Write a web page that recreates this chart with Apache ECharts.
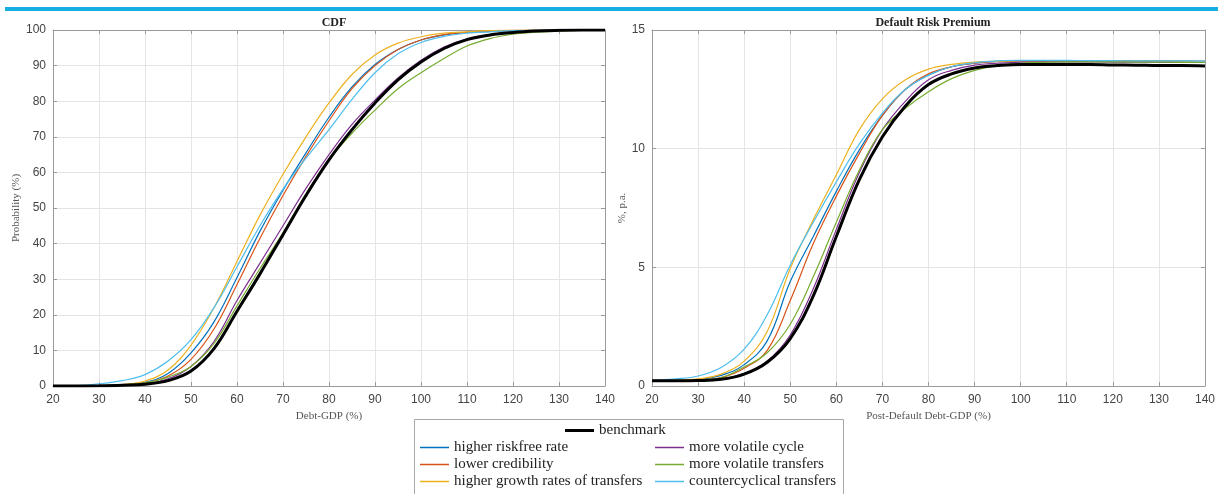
<!DOCTYPE html>
<html>
<head>
<meta charset="utf-8">
<script src="https://cdn.jsdelivr.net/npm/echarts@6/dist/echarts.min.js"></script>
<style>
html,body{margin:0;padding:0;background:#fff;}
#chart{width:1218px;height:494px;}
</style>
</head>
<body>
<div id="chart"></div>
<script>
// Debt-GDP (%) grid shared by both panels
const xs = [20,25,30,35,40,45,50,55,60,65,70,75,80,85,90,95,100,105,110,115,120,125,130,135,140];

const seriesNames = ['benchmark','higher riskfree rate','lower credibility','higher growth rates of transfers','more volatile cycle','more volatile transfers','countercyclical transfers'];

// CDF (%)
const cdfBenchmark   = [0,0,0.05,0.2,0.5,1.5,4.2,10.5,21,31.5,42.5,53.5,63.5,72,79.5,86,91,94.8,97.3,98.6,99.3,99.7,99.9,100,100];
const cdfRiskfree    = [0,0,0.1,0.3,1.0,3.5,9.3,18,30.5,43.5,55,65.5,75.5,84,90.3,94.5,97.2,98.6,99.3,99.6,99.8,99.9,100,100,100];
const cdfCredibility = [0,0,0.1,0.3,0.9,2.8,7.5,16,28.5,41.5,53.5,64.5,74.5,83.5,90,94.5,97.2,98.7,99.4,99.7,99.9,100,100,100,100];
const cdfGrowth      = [0,0,0.1,0.4,1.4,4.5,11.5,22,35,48,59.5,70,79.5,87.5,93,96.3,98.1,99.1,99.5,99.8,100,100,100,100,100];
const cdfCycle       = [0,0,0.05,0.2,0.6,2.0,5.5,12.5,24,34.5,45,55.5,65,73.5,80.3,86.5,91.5,95.2,97.5,98.7,99.3,99.7,99.9,100,100];
const cdfVolTransf   = [0,0,0.1,0.35,0.9,2.5,5.5,12,22.5,33,43,54,63.5,71,77.5,83.5,88,92,95.5,97.6,98.8,99.4,99.7,99.9,100];
const cdfCounter     = [0,0.1,0.6,1.5,3.2,7,13,22,33.5,45,55.3,64,72,80.5,88,93.3,96.5,98.2,99.1,99.5,99.8,99.9,100,100,100];

// Default risk premium (% p.a.)
const drpBenchmark   = [0.22,0.22,0.23,0.28,0.5,1.0,2.0,3.8,6.3,8.7,10.5,11.8,12.7,13.15,13.4,13.5,13.55,13.55,13.55,13.55,13.53,13.52,13.5,13.5,13.48];
const drpRiskfree    = [0.22,0.23,0.28,0.45,0.9,1.9,4.4,6.3,8.2,9.95,11.4,12.5,13.1,13.45,13.6,13.68,13.7,13.71,13.71,13.7,13.7,13.7,13.69,13.69,13.68];
const drpCredibility = [0.22,0.22,0.25,0.35,0.75,1.5,3.6,6.0,8.0,9.8,11.4,12.5,13.15,13.45,13.6,13.67,13.7,13.7,13.7,13.7,13.7,13.69,13.69,13.68,13.68];
const drpGrowth      = [0.22,0.24,0.3,0.5,1.05,2.3,4.95,7.0,8.9,10.8,12.1,12.9,13.35,13.55,13.65,13.68,13.7,13.7,13.7,13.7,13.69,13.69,13.68,13.68,13.67];
const drpCycle       = [0.22,0.22,0.23,0.29,0.52,1.05,2.15,4.1,6.6,9.0,10.8,12.0,12.9,13.3,13.52,13.6,13.65,13.66,13.66,13.66,13.65,13.65,13.64,13.64,13.63];
const drpVolTransf   = [0.22,0.22,0.24,0.35,0.8,1.4,2.6,4.6,6.9,9.1,10.8,11.7,12.4,12.95,13.3,13.5,13.6,13.64,13.66,13.66,13.66,13.65,13.65,13.64,13.64];
const drpCounter     = [0.24,0.3,0.42,0.78,1.55,3.0,5.1,6.9,8.6,10.2,11.5,12.5,13.1,13.45,13.62,13.7,13.72,13.72,13.72,13.71,13.71,13.7,13.7,13.7,13.69];

const colors = ['#000000','#0072BD','#D95319','#EDB120','#7E2F8E','#77AC30','#4DBEEE'];
const cdfData = [cdfBenchmark,cdfRiskfree,cdfCredibility,cdfGrowth,cdfCycle,cdfVolTransf,cdfCounter];
const drpData = [drpBenchmark,drpRiskfree,drpCredibility,drpGrowth,drpCycle,drpVolTransf,drpCounter];

const chart = echarts.init(document.getElementById('chart'), null, {renderer:'canvas'});

const tickLabel = {color:'#444', fontFamily:'Liberation Sans, Arial', fontSize:12, margin:7};
const nameStyle = {color:'#555', fontFamily:'Liberation Serif, Times New Roman', fontSize:11};
const lineCol = '#9a9a9a';
const gridCol = '#e4e4e4';

function xAxisMain(gi, name){
  return {type:'value', gridIndex:gi, min:20, max:140, interval:10,
    name:name, nameLocation:'middle', nameGap:22, nameTextStyle:nameStyle,
    axisLine:{show:true,onZero:false,lineStyle:{color:lineCol,width:1}},
    axisTick:{show:true,inside:true,length:4,lineStyle:{color:lineCol}},
    axisLabel:Object.assign({},tickLabel,{margin:8}),
    splitLine:{show:true,lineStyle:{color:gridCol,width:1}}};
}
function xAxisTop(gi){
  return {type:'value', gridIndex:gi, position:'top', min:20, max:140, interval:10,
    axisLine:{show:true,onZero:false,lineStyle:{color:lineCol,width:1}},
    axisTick:{show:true,inside:true,length:4,lineStyle:{color:lineCol}},
    axisLabel:{show:false}, splitLine:{show:false}};
}
function yAxisMain(gi, max, interval, name, gap){
  return {type:'value', gridIndex:gi, min:0, max:max, interval:interval,
    name:name, nameLocation:'middle', nameGap:gap, nameTextStyle:nameStyle,
    axisLine:{show:true,onZero:false,lineStyle:{color:lineCol,width:1}},
    axisTick:{show:true,inside:true,length:4,lineStyle:{color:lineCol}},
    axisLabel:tickLabel,
    splitLine:{show:true,lineStyle:{color:gridCol,width:1}}};
}
function yAxisRight(gi, max, interval){
  return {type:'value', gridIndex:gi, position:'right', min:0, max:max, interval:interval,
    axisLine:{show:true,onZero:false,lineStyle:{color:lineCol,width:1}},
    axisTick:{show:true,inside:true,length:4,lineStyle:{color:lineCol}},
    axisLabel:{show:false}, splitLine:{show:false}};
}

const series = [];
function addSeries(dataSets, xi, yi){
  const order = [1,2,3,4,5,6,0];
  order.forEach(i=>{
    series.push({
      name:seriesNames[i], type:'line', xAxisIndex:xi, yAxisIndex:yi,
      data: xs.map((x,k)=>[x, dataSets[i][k]]),
      showSymbol:false, symbol:'none', smooth:0.4,
      lineStyle:{color:colors[i], width: i===0 ? 3 : 1.2},
      itemStyle:{color:colors[i]},
      z: i===0 ? 3 : 2
    });
  });
}
addSeries(cdfData, 0, 0);
addSeries(drpData, 2, 2);

const legendText = {color:'#222', fontFamily:'Liberation Serif, Times New Roman', fontSize:15};
function mkLegend(data, left, top, h){
  return {show:true, orient:'vertical', data:data, left:left, top:top,
    icon:'rect', itemWidth:29, itemHeight:h, itemGap:2, selectedMode:false,
    textStyle:legendText, padding:0, z:20};
}

const option = {
  backgroundColor:'#fff',
  animation:false,
  title:[
    {text:'CDF', left:329, top:12, textAlign:'center',
     textStyle:{fontFamily:'Liberation Serif, Times New Roman', fontWeight:'bold', fontSize:12, color:'#222'}},
    {text:'Default Risk Premium', left:928, top:12, textAlign:'center',
     textStyle:{fontFamily:'Liberation Serif, Times New Roman', fontWeight:'bold', fontSize:12, color:'#222'}}
  ],
  grid:[
    {left:53, top:30, width:552, height:356},
    {left:652, top:30, width:553, height:356}
  ],
  xAxis:[
    xAxisMain(0,'Debt-GDP (%)'), xAxisTop(0),
    xAxisMain(1,'Post-Default Debt-GDP (%)'), xAxisTop(1)
  ],
  yAxis:[
    yAxisMain(0,100,10,'Probability (%)',30), yAxisRight(0,100,10),
    yAxisMain(1,15,5,'%, p.a.',9), yAxisRight(1,15,5)
  ],
  legend:[
    mkLegend(['benchmark'], 565, 423, 3),
    mkLegend(['higher riskfree rate','lower credibility','higher growth rates of transfers'], 420, 440, 1.5),
    mkLegend(['more volatile cycle','more volatile transfers','countercyclical transfers'], 655, 440, 1.5)
  ],
  graphic:[
    {type:'rect', left:5, top:7, shape:{width:1213, height:4}, style:{fill:'#16aee0'}, silent:true},
    {type:'rect', shape:{x:414.5, y:419.5, width:429, height:80}, style:{fill:'none', stroke:'#a8a8a8', lineWidth:1}, silent:true}
  ],
  series:series
};
chart.setOption(option);
</script>
</body>
</html>
